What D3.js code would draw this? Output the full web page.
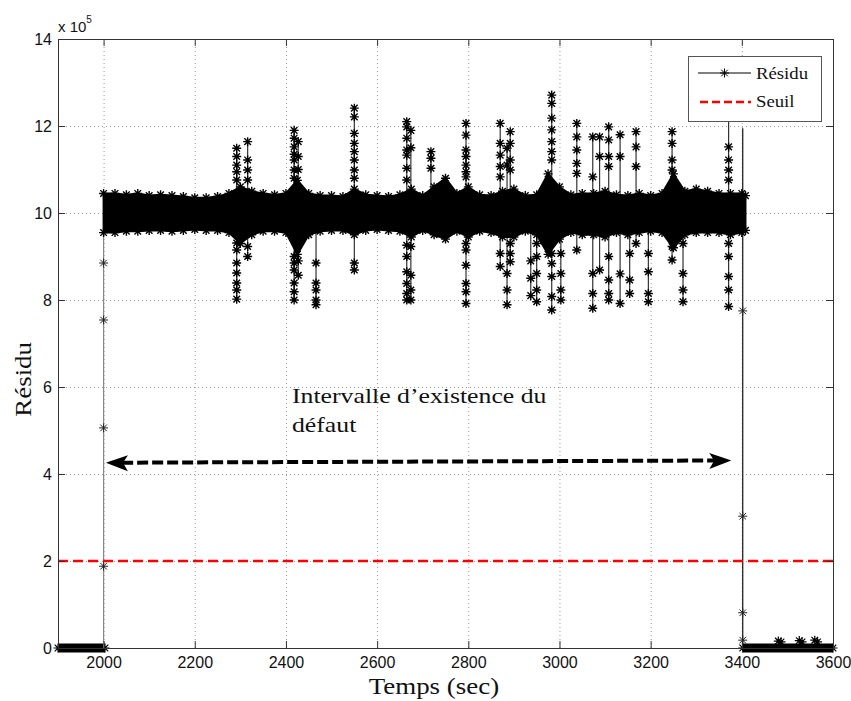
<!DOCTYPE html>
<html><head><meta charset="utf-8">
<script src="https://cdn.jsdelivr.net/npm/d3@7"></script>
<style>body{margin:0;background:#fff} svg{display:block}</style>
</head><body>
<svg id="c" width="851" height="701"></svg>
<script>
// ---------------- DATA ----------------
const xTicks = [2000, 2200, 2400, 2600, 2800, 3000, 3200, 3400, 3600];
const yTicks = [0, 2, 4, 6, 8, 10, 12, 14];
const yTickLabels = ["0", "2", "4", "6", "8", "10", "12", "14"];
const xDomain = [1900, 3600];
const yDomain = [0, 14];

// dense residual band (x 1e5) : envelope
const bandTimes = [2000,2025,2050,2075,2100,2125,2150,2175,2200,2225,2250,2275,2300,2325,2350,2375,2400,2425,2450,2475,2500,2525,2550,2575,2600,2625,2650,2675,2700,2725,2750,2775,2800,2825,2850,2875,2900,2925,2950,2975,3000,3025,3050,3075,3100,3125,3150,3175,3200,3225,3250,3275,3300,3325,3350,3375,3400,3408];
const bandUpper = [10.45,10.45,10.42,10.45,10.4,10.42,10.4,10.38,10.35,10.35,10.38,10.45,10.6,10.5,10.45,10.42,10.45,10.75,10.45,10.4,10.4,10.38,10.55,10.42,10.4,10.38,10.42,10.55,10.4,10.6,10.8,10.45,10.6,10.42,10.4,10.5,10.55,10.4,10.42,10.9,10.6,10.42,10.45,10.45,10.5,10.42,10.4,10.45,10.4,10.45,10.9,10.5,10.55,10.5,10.45,10.45,10.45,10.4];
const bandLower = [9.55,9.55,9.58,9.58,9.6,9.6,9.58,9.6,9.62,9.6,9.6,9.55,9.3,9.5,9.58,9.58,9.55,9.05,9.5,9.58,9.6,9.6,9.5,9.6,9.62,9.6,9.58,9.45,9.6,9.5,9.4,9.58,9.45,9.58,9.55,9.45,9.45,9.58,9.5,9.05,9.4,9.55,9.5,9.5,9.45,9.55,9.5,9.55,9.58,9.55,9.2,9.5,9.55,9.55,9.55,9.5,9.55,9.6];

// isolated spikes: time, upper markers, lower markers
const spikeTimes = [2292,2316,2418,2427,2466,2550,2665,2674,2718,2795,2870,2885,2892,2937,2950,2983,3003,3038,3073,3088,3108,3133,3154,3168,3195,3247,3271,3371];
const spikeHigh = [
  [11.49,11.3,11.1,10.95,10.76],
  [11.64,11.22,10.99,10.76],
  [11.9,11.72,11.52,11.35,11.22,10.99,10.8],
  [11.64,11.3,11.0],
  [],
  [12.41,12.21,11.83,11.6,11.41,11.22,10.99,10.8],
  [12.1,11.98,11.72,11.45,11.33,11.03,10.76],
  [11.9,11.5],
  [11.41,11.26,11.03],
  [12.06,11.79,11.45,11.3,11.1,10.95,10.83],
  [12.06,11.6,11.33,11.07,10.83],
  [11.49,11.1],
  [11.87,11.6,11.22,10.99],
  [],
  [],
  [12.71,12.52,12.18,11.91,11.64,11.41,11.22],
  [],
  [12.06,11.75,11.45,11.14,10.91],
  [11.75,10.83],
  [11.75,11.3],
  [11.98,11.68,11.3,11.07],
  [11.8,11.3],
  [],
  [11.87,11.52,11.07],
  [],
  [11.87,11.6,11.22,10.99],
  [],
  [12.2,11.52,11.22,10.99,10.76]
];
const spikeLow = [
  [9.31,9.15,8.85,8.62,8.39,8.23,8.02],
  [9.23,9.0],
  [9.0,8.85,8.69,8.39,8.19,8.0],
  [8.9,8.57],
  [8.85,8.39,8.23,8.0,7.89],
  [8.85,8.69],
  [9.26,9.0,8.65,8.38,8.15,8.0],
  [9.23,8.57,8.23,8.0],
  [],
  [9.3,9.15,8.8,8.38,8.19,7.92],
  [9.07,8.77],
  [8.61,8.23,7.89],
  [9.3,9.07,8.88],
  [8.9,8.5,8.1],
  [9.3,9.0,8.61,8.23,7.96],
  [9.07,8.84,8.54,8.08,7.77],
  [9.07,8.61,8.23,8.0],
  [9.15],
  [8.61,8.15,7.81],
  [8.69],
  [9.0,8.46,8.15,8.0],
  [8.6,7.92],
  [9.07,8.46,8.15],
  [9.3],
  [9.07,8.65,8.15,7.96],
  [9.23,8.92],
  [9.3,8.61,8.23,7.96],
  [9.3,9.0,8.54,8.23,7.85]
];

// transitions (fault start and end)
const riseTime = 2000;
const riseValues = [1.88, 5.06, 7.54, 8.85];
const fallTime = 3402;
const fallTop = 11.95;
const fallValues = [7.75, 3.03, 0.81, 0.18];

// residual close to zero outside the fault
const zeroSegments = [[1900, 2003], [3402, 3600]];
const zeroBumpTimes = [3480, 3486, 3526, 3532, 3560, 3566];
const zeroBumpValues = [0.16, 0.14, 0.17, 0.14, 0.18, 0.14];

// threshold
const seuilValue = 2;

// annotation arrow
const arrowStart = [2010, 4.26];
const arrowEnd = [3372, 4.31];
const annotationLines = ["Intervalle d\u2019existence du", "d\u00e9faut"];

// ---------------- DRAW ----------------
(function draw() {
const svg = d3.select("#c");
const L = 58, R = 833, T = 39, B = 648;
const x = d3.scaleLinear().domain(xDomain).range([L, R]);
const y = d3.scaleLinear().domain(yDomain).range([B, T]);

const sans = "'Liberation Sans', Arial, sans-serif";
const serif = "'Liberation Serif', 'DejaVu Serif', serif";
const widen = 1.17; // Computer-Modern-like width

function wideText(sel) {
  sel.each(function () {
    const w = this.getComputedTextLength();
    d3.select(this).attr("textLength", w * widen).attr("lengthAdjust", "spacingAndGlyphs");
  });
  return sel;
}

// grid
const grid = svg.append("g").attr("stroke", "#9a9a9a").attr("stroke-width", 1).attr("stroke-dasharray", "1,3");
grid.selectAll("line.gx").data(xTicks.filter(t => t > xDomain[0] && t < xDomain[1])).join("line")
  .attr("x1", d => x(d) + 0.5).attr("x2", d => x(d) + 0.5).attr("y1", T).attr("y2", B);
grid.selectAll("line.gy").data(yTicks.filter(t => t > yDomain[0] && t < yDomain[1])).join("line")
  .attr("y1", d => Math.round(y(d)) + 0.5).attr("y2", d => Math.round(y(d)) + 0.5).attr("x1", L).attr("x2", R);

// asterisk marker
const s = 4.5, k = 3.3;
const star = `M${-s},0H${s}M0,${-s}V${s}M${-k},${-k}L${k},${k}M${-k},${k}L${k},${-k}`;
function stars(g, pts, color, w) {
  g.append("g").selectAll("path").data(pts).join("path")
    .attr("d", star).attr("transform", d => `translate(${x(d[0])},${y(d[1])})`)
    .attr("fill", "none").attr("stroke", color || "#000").attr("stroke-width", w || 1.2);
}

const dataG = svg.append("g");

// zero band
zeroSegments.forEach(seg => {
  dataG.append("line").attr("x1", x(seg[0])).attr("x2", x(seg[1]))
    .attr("y1", y(0)).attr("y2", y(0)).attr("stroke", "#000").attr("stroke-width", 9);
  stars(dataG, [[seg[0], 0], [seg[1], 0]]);
});
stars(dataG, zeroBumpTimes.map((t, i) => [t, zeroBumpValues[i]]));

// rise
dataG.append("line").attr("x1", x(riseTime)).attr("x2", x(riseTime))
  .attr("y1", y(0)).attr("y2", y(bandLower[0])).attr("stroke", "#888").attr("stroke-width", 1.2);
stars(dataG, riseValues.map(v => [riseTime, v]), "#222", 1);

// fall
dataG.append("line").attr("x1", x(fallTime)).attr("x2", x(fallTime))
  .attr("y1", y(0)).attr("y2", y(fallTop)).attr("stroke", "#111").attr("stroke-width", 1.2);
stars(dataG, fallValues.map(v => [fallTime, v]), "#222", 1);

// spikes
spikeTimes.forEach((t, i) => {
  const hi = spikeHigh[i], lo = spikeLow[i];
  const yTop = hi.length ? d3.max(hi) : 10.4;
  const yBot = lo.length ? d3.min(lo) : 9.6;
  dataG.append("line").attr("x1", x(t)).attr("x2", x(t)).attr("y1", y(yTop)).attr("y2", y(yBot))
    .attr("stroke", "#333").attr("stroke-width", 1.2);
  stars(dataG, hi.concat(lo).map(v => [t, v]), "#000", 1.4);
});

// band
const area = d3.area().x((d, i) => x(bandTimes[i])).y0((d, i) => y(bandLower[i])).y1(d => y(d));
dataG.append("path").datum(bandUpper).attr("d", area).attr("fill", "#000").attr("stroke", "#000").attr("stroke-width", 2);
stars(dataG, bandTimes.map((t, i) => [t, bandUpper[i]]), "#000", 1.4);
stars(dataG, bandTimes.map((t, i) => [t, bandLower[i]]), "#000", 1.4);

// threshold
svg.append("line").attr("x1", x(xDomain[0])).attr("x2", x(xDomain[1]))
  .attr("y1", y(seuilValue)).attr("y2", y(seuilValue))
  .attr("stroke", "#ff0000").attr("stroke-width", 2.5).attr("stroke-dasharray", "10,5");

// axes box with inward ticks
const axisColor = "#333";
const ax = svg.append("g");
ax.append("g").attr("transform", `translate(0,${B})`)
  .call(d3.axisBottom(x).tickValues(xTicks).tickSizeInner(-7).tickSizeOuter(0).tickPadding(9).tickFormat(d3.format("d")));
ax.append("g").attr("transform", `translate(0,${T})`)
  .call(d3.axisTop(x).tickValues(xTicks).tickSizeInner(-7).tickSizeOuter(0).tickFormat(""));
ax.append("g").attr("transform", `translate(${L},0)`)
  .call(d3.axisLeft(y).tickValues(yTicks).tickSizeInner(-7).tickSizeOuter(0).tickPadding(6).tickFormat((d, i) => yTickLabels[i]));
ax.append("g").attr("transform", `translate(${R},0)`)
  .call(d3.axisRight(y).tickValues(yTicks).tickSizeInner(-7).tickSizeOuter(0).tickFormat(""));
ax.selectAll(".domain, .tick line").attr("stroke", axisColor);
ax.selectAll("text").attr("font-family", sans).attr("font-size", 16).attr("fill", "#111");

// exponent label
const ex = svg.append("text").attr("x", L).attr("y", 32).attr("font-family", sans).attr("font-size", 15).attr("fill", "#111");
ex.append("tspan").text("x 10");
ex.append("tspan").attr("dy", -9).attr("font-size", 10).text("5");

// axis titles
const xt = svg.append("text").attr("y", 694)
  .attr("font-family", serif).attr("font-size", 23).attr("fill", "#111").text("Temps (sec)");
wideText(xt);
xt.attr("x", 445 - xt.node().getComputedTextLength() * widen / 2);
const yt = svg.append("text").attr("font-family", serif).attr("font-size", 23).attr("fill", "#111").text("R\u00e9sidu");
wideText(yt);
yt.attr("transform", `translate(31,${373 + yt.node().getComputedTextLength() * widen / 2}) rotate(-90)`);

// annotation text
annotationLines.forEach((t, i) => {
  const tx = svg.append("text").attr("x", 292).attr("y", 403 + i * 29)
    .attr("font-family", serif).attr("font-size", 22).attr("fill", "#111").text(t);
  wideText(tx);
});

// double arrow
const ag = svg.append("g");
const ax1 = x(arrowStart[0]), ay1 = y(arrowStart[1]), ax2 = x(arrowEnd[0]), ay2 = y(arrowEnd[1]);
ag.append("line").attr("x1", ax1 + 14).attr("y1", ay1).attr("x2", ax2 - 14).attr("y2", ay2)
  .attr("stroke", "#000").attr("stroke-width", 4).attr("stroke-dasharray", "11,4");
ag.append("path").attr("d", `M${ax1},${ay1}L${ax1 + 18},${ay1 - 6}L${ax1 + 14},${ay1}L${ax1 + 18},${ay1 + 7}Z`).attr("fill", "#000").attr("stroke", "#000").attr("stroke-width", 1.5);
ag.append("path").attr("d", `M${ax2},${ay2}L${ax2 - 18},${ay2 - 6}L${ax2 - 14},${ay2}L${ax2 - 18},${ay2 + 7}Z`).attr("fill", "#000").attr("stroke", "#000").attr("stroke-width", 1.5);

// legend
const lg = svg.append("g");
lg.append("rect").attr("x", 688.5).attr("y", 56.5).attr("width", 133).attr("height", 65)
  .attr("fill", "#fff").attr("stroke", "#555").attr("stroke-width", 1);
lg.append("line").attr("x1", 698).attr("x2", 751).attr("y1", 73).attr("y2", 73).attr("stroke", "#000").attr("stroke-width", 1);
lg.append("path").attr("d", star).attr("transform", "translate(724.5,73)").attr("fill", "none").attr("stroke", "#000");
lg.append("line").attr("x1", 700).attr("x2", 751).attr("y1", 102).attr("y2", 102)
  .attr("stroke", "#ff0000").attr("stroke-width", 2.5).attr("stroke-dasharray", "8,4");
wideText(lg.append("text").attr("x", 756).attr("y", 79).attr("font-family", serif).attr("font-size", 16).attr("fill", "#111").text("R\u00e9sidu"));
wideText(lg.append("text").attr("x", 756).attr("y", 107).attr("font-family", serif).attr("font-size", 16).attr("fill", "#111").text("Seuil"));
})();
</script>
</body></html>
